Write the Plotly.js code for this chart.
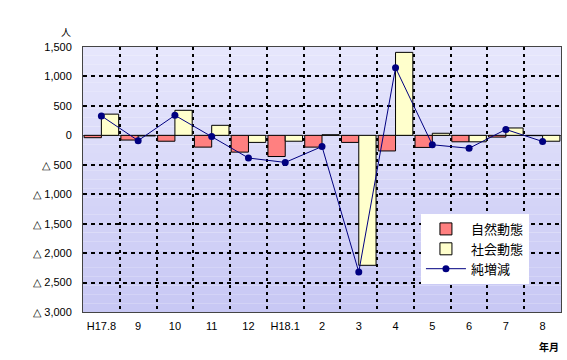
<!DOCTYPE html>
<html><head><meta charset="utf-8">
<script src="https://cdn.plot.ly/plotly-3.0.1.min.js"></script>
<style>html,body{margin:0;padding:0;background:#fff}#c{width:567px;height:360px}</style>
</head><body><div id="c"></div>
<script>
const categories = ['H17.8','9','10','11','12','H18.1','2','3','4','5','6','7','8'];
const naturalChange = [-40, -80, -100, -200, -285, -360, -200, -120, -265, -205, -110, -30, -5];
const socialChange = [360, -10, 425, 170, -120, -100, 10, -2207, 1409, 35, -110, 125, -100];
const netChange = [330, -90, 340, -20, -385, -460, -190, -2320, 1148, -160, -220, 100, -105];
const yTickVals = [1500, 1000, 500, 0, -500, -1000, -1500, -2000, -2500, -3000];
const yTickText = ['1,500','1,000','500','0','△ 500','△ 1,000','△ 1,500','△ 2,000','△ 2,500','△ 3,000'];

// background gradient bands
const shapes = [];
const nb = 30;
const c0 = [230,230,252], c1 = [200,200,244];
for (let i = 0; i < nb; i++) {
  const t = i/(nb-1);
  const col = 'rgb(' + c0.map((v,k)=>Math.round(v+(c1[k]-v)*t)).join(',') + ')';
  shapes.push({type:'rect', xref:'paper', yref:'paper', x0:0, x1:1,
    y0:1 - (i+1)/nb, y1:1 - i/nb, fillcolor:col, line:{width:0}, layer:'below'});
}

const font = 'Liberation Sans, Arial, sans-serif';
const jfont = 'Noto Sans CJK JP, sans-serif';
const data = [
  {type:'bar', name:'自然動態', legendgroup:'a', x:categories, y:naturalChange,
   marker:{color:'#ff8080', line:{color:'#000', width:1}}},
  {type:'bar', name:'社会動態', legendgroup:'b', x:categories, y:socialChange,
   marker:{color:'#ffffcc', line:{color:'#000', width:1}}},
  {type:'scatter', mode:'lines+markers', name:'純増減', legendgroup:'c', x:categories, y:netChange,
   line:{color:'#000080', width:1}, marker:{color:'#000080', size:7}}
];
const layout = {
  width:567, height:360,
  margin:{l:83, r:6, t:47, b:48, autoexpand:false},
  paper_bgcolor:'#fff', plot_bgcolor:'rgba(0,0,0,0)',
  barmode:'group', bargap:0.06, bargroupgap:0,
  shapes: shapes,
  showlegend:true,
  legend:{x:0.707, y:0.37, xanchor:'left', yanchor:'top', bgcolor:'#fff',
    font:{family:jfont, size:13, color:'#000'}, tracegroupgap:8, itemwidth:40,
    traceorder:'normal'},
  xaxis:{type:'category', range:[-0.5, 12.5], autorange:false, automargin:false,
    tickson:'boundaries', showgrid:true, tickangle:0,
    gridcolor:'#000', gridwidth:2, griddash:'3px,4px',
    ticks:'', showline:true, linecolor:'#444', linewidth:1, mirror:true,
    ticklabelstandoff:4,
    tickfont:{family:font, size:11, color:'#000'}, fixedrange:true},
  yaxis:{range:[-3000,1500], autorange:false, automargin:false,
    tickvals:yTickVals, ticktext:yTickText,
    showgrid:true, gridcolor:'#000', gridwidth:2, griddash:'4px,4px',
    zeroline:true, zerolinecolor:'#555', zerolinewidth:1,
    showline:true, linecolor:'#444', linewidth:1, mirror:true, ticks:'',
    ticklabelstandoff:8, tickfont:{family:font, size:11, color:'#000'}, fixedrange:true},
  annotations:[
    {text:'人', xref:'paper', yref:'paper', x:-0.035, y:1.057, xanchor:'center', yanchor:'middle',
     showarrow:false, font:{family:jfont, size:10, color:'#000'}},
    {text:'<b>年月</b>', xref:'paper', yref:'paper', x:1.0, y:-0.132, xanchor:'right', yanchor:'middle',
     showarrow:false, font:{family:jfont, size:10, color:'#000'}}
  ]
};
Plotly.newPlot('c', data, layout, {displayModeBar:false, staticPlot:true});
</script></body></html>
